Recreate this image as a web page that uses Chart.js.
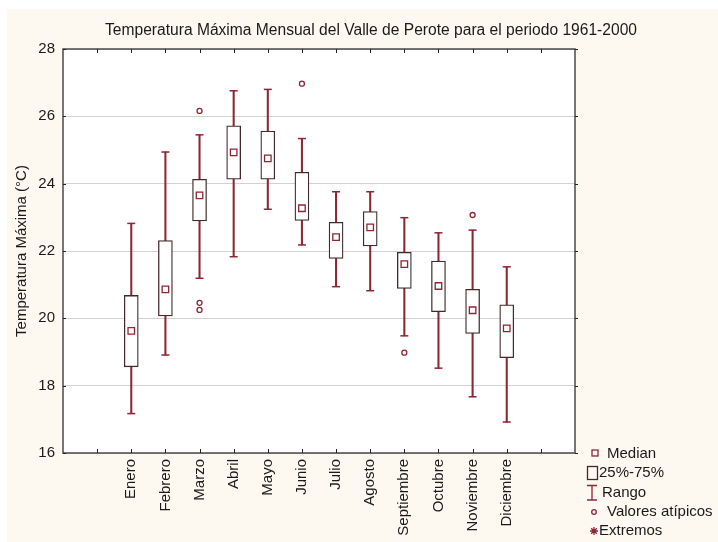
<!DOCTYPE html>
<html>
<head>
<meta charset="utf-8">
<script src="https://cdn.jsdelivr.net/npm/chart.js@4.4.1/dist/chart.umd.min.js"></script>
<style>
    html, body { margin: 0; padding: 0; background: #ffffff; }
    #wrap { width: 718px; height: 542px; }
</style>
</head>
<body>
<div id="wrap"><canvas id="boxChart" width="718" height="542"></canvas></div>
<script>
var months = ["Enero", "Febrero", "Marzo", "Abril", "Mayo", "Junio", "Julio", "Agosto", "Septiembre", "Octubre", "Noviembre", "Diciembre"];
var mins    = [17.17, 18.91, 21.19, 21.83, 23.24, 22.18, 20.94, 20.82, 19.48, 18.52, 17.67, 16.92];
var q1      = [18.56, 20.07, 22.89, 24.13, 24.13, 22.91, 21.78, 22.15, 20.89, 20.20, 19.55, 18.83];
var medians = [19.63, 20.86, 23.65, 24.93, 24.75, 23.27, 22.41, 22.70, 21.61, 20.96, 20.24, 19.70];
var q3      = [20.68, 22.31, 24.13, 25.72, 25.56, 24.34, 22.85, 23.17, 21.96, 21.70, 20.86, 20.40];
var maxs    = [22.82, 24.94, 25.45, 26.76, 26.80, 25.34, 23.76, 23.76, 22.99, 22.54, 22.62, 21.53];
var outlierMonths = ["Marzo", "Marzo", "Marzo", "Junio", "Septiembre", "Noviembre"];
var outlierValues = [26.16, 20.46, 20.25, 26.97, 18.98, 23.07];
var yTicks = [16, 18, 20, 22, 24, 26, 28];

var maroon = "#8e2636";
var boxLine = "#3f2b2b";
var font = "'Liberation Sans', Arial, sans-serif";

// month i sits at x = i + 2 (one empty slot at each side)
function xOf(name) { return months.indexOf(name) + 2; }

var whiskers = months.map((m, i) => ({ x: i + 2, y: [mins[i], maxs[i]] }));
var boxes = months.map((m, i) => ({ x: i + 2, y: [q1[i], q3[i]] }));
var caps = [];
months.forEach((m, i) => {
    caps.push({ x: i + 2, y: mins[i] });
    caps.push({ x: i + 2, y: maxs[i] });
});
var medPoints = months.map((m, i) => ({ x: i + 2, y: medians[i] }));
var outPoints = outlierMonths.map((m, i) => ({ x: xOf(m), y: outlierValues[i] }));

var framePlugin = {
    id: "frame",
    beforeDraw(chart) {
        var ctx = chart.ctx, a = chart.chartArea;
        ctx.save();
        ctx.fillStyle = "#ffffff";
        ctx.fillRect(0, 0, chart.width, chart.height);
        ctx.fillStyle = "#fdf9f0";
        ctx.fillRect(7, 9, chart.width - 7, chart.height - 9);
        ctx.fillStyle = "#ffffff";
        ctx.fillRect(a.left, a.top, a.right - a.left, a.bottom - a.top);
        ctx.restore();
    },
    afterDatasetsDraw(chart) {
        var ctx = chart.ctx, a = chart.chartArea;
        var xs = chart.scales.x, ys = chart.scales.y;
        ctx.save();
        ctx.strokeStyle = "#4a4a4a";
        ctx.lineWidth = 1.5;
        ctx.strokeRect(a.left, a.top, a.right - a.left, a.bottom - a.top);
        // small tick marks
        ctx.strokeStyle = "#222";
        ctx.lineWidth = 1;
        ctx.beginPath();
        for (var k = 1; k <= 14; k++) {
            var px = Math.round(xs.getPixelForValue(k)) + 0.5;
            ctx.moveTo(px, a.bottom); ctx.lineTo(px, a.bottom - 4);
            ctx.moveTo(px, a.top); ctx.lineTo(px, a.top + 4);
        }
        yTicks.forEach(v => {
            var py = Math.round(ys.getPixelForValue(v)) + 0.5;
            ctx.moveTo(a.left, py); ctx.lineTo(a.left + 3, py);
            ctx.moveTo(a.right, py); ctx.lineTo(a.right + 3, py);
        });
        ctx.stroke();

        // title
        ctx.fillStyle = "#1a1a1a";
        ctx.font = "15.6px " + font;
        ctx.textAlign = "center";
        ctx.textBaseline = "middle";
        ctx.fillText("Temperatura Máxima Mensual del Valle de Perote para el periodo 1961-2000", 371, 31);

        // legend
        ctx.textAlign = "left";
        ctx.font = "15px " + font;
        ctx.strokeStyle = maroon;
        ctx.lineWidth = 1.3;
        ctx.strokeRect(592, 450, 6, 6);
        ctx.fillText("Median", 607, 454);

        ctx.strokeStyle = boxLine;
        ctx.strokeRect(587.5, 466.5, 10, 13);
        ctx.fillText("25%-75%", 599, 473);

        ctx.strokeStyle = maroon;
        ctx.beginPath();
        ctx.moveTo(587, 485.5); ctx.lineTo(597, 485.5);
        ctx.moveTo(592, 485.5); ctx.lineTo(592, 500);
        ctx.moveTo(587, 500); ctx.lineTo(597, 500);
        ctx.stroke();
        ctx.fillText("Rango", 602, 493);

        ctx.beginPath();
        ctx.arc(594, 512, 2.3, 0, Math.PI * 2);
        ctx.stroke();
        ctx.fillText("Valores atípicos", 607, 512);

        ctx.beginPath();
        for (var r = 0; r < 4; r++) {
            var ang = r * Math.PI / 4;
            ctx.moveTo(594 - 4 * Math.cos(ang), 531 - 4 * Math.sin(ang));
            ctx.lineTo(594 + 4 * Math.cos(ang), 531 + 4 * Math.sin(ang));
        }
        ctx.stroke();
        ctx.fillText("Extremos", 599, 531);
        ctx.restore();
    }
};

var ctx = document.getElementById("boxChart").getContext("2d");
new Chart(ctx, {
    type: "bar",
    data: {
        datasets: [
            {
                type: "scatter",
                label: "Median",
                data: medPoints,
                pointStyle: "rect",
                pointRadius: 4.6,
                pointHoverRadius: 4.6,
                borderColor: maroon,
                backgroundColor: "#ffffff",
                borderWidth: 1.3,
                order: 1
            },
            {
                type: "scatter",
                label: "Valores atípicos",
                data: outPoints,
                pointStyle: "circle",
                pointRadius: 2.5,
                borderColor: maroon,
                backgroundColor: "#ffffff",
                borderWidth: 1.3,
                order: 2
            },
            {
                type: "scatter",
                label: "Caps",
                data: caps,
                pointStyle: "line",
                pointRadius: 4,
                borderColor: maroon,
                borderWidth: 1.5,
                order: 3
            },
            {
                label: "25%-75%",
                data: boxes,
                grouped: false,
                barThickness: 14,
                backgroundColor: "#ffffff",
                borderColor: boxLine,
                borderWidth: 1.3,
                borderSkipped: false,
                order: 4
            },
            {
                label: "Rango",
                data: whiskers,
                grouped: false,
                barThickness: 1.4,
                backgroundColor: maroon,
                borderWidth: 0,
                order: 5
            }
        ]
    },
    options: {
        responsive: false,
        animation: false,
        events: [],
        layout: { padding: { top: 49, right: 143, left: 0, bottom: 0 } },
        plugins: {
            legend: { display: false },
            tooltip: { enabled: false }
        },
        scales: {
            x: {
                type: "linear",
                min: 0,
                max: 15,
                offset: false,
                afterFit: function (scale) { scale.height = 89; },
                grid: { display: false, drawTicks: false, offset: false },
                border: { display: false },
                ticks: {
                    stepSize: 1,
                    autoSkip: false,
                    maxRotation: 90,
                    minRotation: 90,
                    padding: 6,
                    color: "#1a1a1a",
                    font: { family: font, size: 15 },
                    callback: function (v) { return months[v - 2] || ""; }
                }
            },
            y: {
                min: 16,
                max: 28,
                afterFit: function (scale) { scale.width = 63; },
                afterBuildTicks: function (scale) { scale.ticks = yTicks.map(v => ({ value: v })); },
                grid: { color: "#d2d2d2", lineWidth: 1, drawTicks: false },
                border: { display: false },
                ticks: {
                    padding: 8,
                    color: "#1a1a1a",
                    font: { family: font, size: 15 }
                },
                title: {
                    display: true,
                    text: "Temperatura Máxima (°C)",
                    color: "#1a1a1a",
                    font: { family: font, size: 15 },
                    padding: { top: 13, bottom: 0 }
                }
            }
        }
    },
    plugins: [framePlugin]
});
</script>
</body>
</html>
